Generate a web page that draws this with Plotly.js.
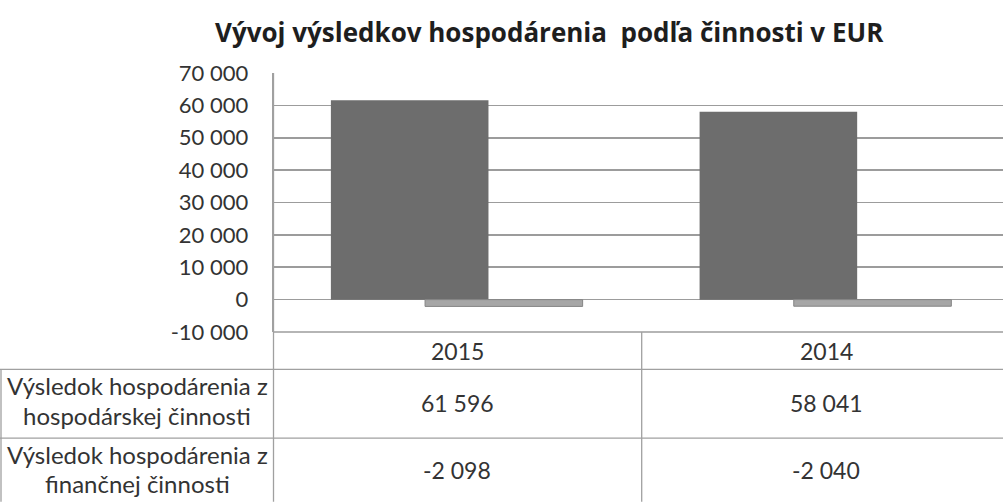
<!DOCTYPE html>
<html>
<head>
<meta charset="utf-8">
<script src="https://cdn.plot.ly/plotly-3.0.1.min.js"></script>
<style>
  html, body { margin: 0; padding: 0; background: #ffffff; }
  #chart { width: 1003px; height: 503px; }
</style>
</head>
<body>
<div id="chart"></div>
<script>
// ---- data ----
const categories = ['2015', '2014'];
const hospodarska = [61596, 58041];
const financna = [-2098, -2040];
const rowLabels = [
  ['Výsledok hospodárenia z', 'hospodárskej činnosti'],
  ['Výsledok hospodárenia z', 'finančnej činnosti']
];
const yTickVals = [-10000, 0, 10000, 20000, 30000, 40000, 50000, 60000, 70000];
const yTickLabels = ['-10 000', '0', '10 000', '20 000', '30 000', '40 000', '50 000', '60 000', '70 000'];
const chartTitle = 'Vývoj výsledkov hospodárenia  podľa činnosti v EUR';

// ---- helpers ----
function fmt(v) {
  const s = Math.abs(v).toString().replace(/\B(?=(\d{3})+(?!\d))/g, ' ');
  return (v < 0 ? '-' : '') + s;
}

const W = 1003, H = 503;
const mL = 273, mR = 0, mT = 72.5, mB = 170.5;
const plotW = W - mL - mR, plotH = H - mT - mB;
const px = x => (x - mL) / plotW;           // pixel x -> paper x
const py = y => (H - mB - y) / plotH;       // pixel y -> paper y

const FONT = 'Lato, "Open Sans", sans-serif';
const TXT = '#333333';
const LINE = '#a0a0a0';

const xIdx = categories.map((c, i) => i);

const traces = [
  {
    type: 'bar', x: xIdx, y: hospodarska, name: rowLabels[0].join(' '),
    width: 0.4274, offset: -0.343,
    marker: { color: '#6d6d6d', line: { width: 0 } },
    hoverinfo: 'y'
  },
  {
    type: 'bar', x: xIdx, y: financna, name: rowLabels[1].join(' '),
    width: 0.4274, offset: -0.0876,
    marker: { color: '#a6a6a6', line: { color: '#858585', width: 1 } },
    hoverinfo: 'y'
  }
];

const shapes = [];
const hline = (y, x0, x1, c, w) => shapes.push({ type: 'line', xref: 'paper', yref: 'paper', layer: 'above',
  x0: px(x0), x1: px(x1), y0: py(y), y1: py(y), line: { color: c || LINE, width: w || 1.3 } });
const vline = (x, y0, y1, xref) => shapes.push({ type: 'line', xref: xref || 'paper', yref: 'paper', layer: 'above',
  x0: x, x1: x, y0: py(y0), y1: py(y1), line: { color: LINE, width: 1.3 } });

hline(332.5, mL, W, '#9c9c9c', 1.6);
hline(370, 0, W);
hline(439, 0, W);
vline(px(1), 370, H);
vline(px(mL + 0.5), mT, H);
vline(0.5, 332.5, H, 'x');

const annotations = [];
annotations.push({ xref: 'paper', yref: 'paper', x: px(549), y: py(31), text: '<b>' + chartTitle + '</b>',
  showarrow: false, xanchor: 'center', yanchor: 'middle',
  font: { family: '"Open Sans", Lato, sans-serif', size: 26, color: '#1e1e1e' } });

categories.forEach((c, i) => {
  annotations.push({ xref: 'x', yref: 'paper', x: i, y: py(352), text: c, showarrow: false,
    xanchor: 'center', yanchor: 'middle', font: { family: FONT, size: 23, color: TXT } });
  annotations.push({ xref: 'x', yref: 'paper', x: i, y: py(404), text: fmt(hospodarska[i]), showarrow: false,
    xanchor: 'center', yanchor: 'middle', font: { family: FONT, size: 23, color: TXT } });
  annotations.push({ xref: 'x', yref: 'paper', x: i, y: py(471), text: fmt(financna[i]), showarrow: false,
    xanchor: 'center', yanchor: 'middle', font: { family: FONT, size: 23, color: TXT } });
});

const rowCenters = [401, 470];
rowLabels.forEach((lines, r) => {
  lines.forEach((t, k) => {
    annotations.push({ xref: 'paper', yref: 'paper', x: px(137), y: py(rowCenters[r] - 15 + 30 * k), text: t,
      showarrow: false, xanchor: 'center', yanchor: 'middle', font: { family: FONT, size: 24, color: TXT } });
  });
});

const layout = {
  width: W, height: H,
  margin: { l: mL, r: mR, t: mT, b: mB, pad: 0 },
  paper_bgcolor: '#ffffff', plot_bgcolor: '#ffffff',
  showlegend: false,
  barmode: 'overlay',
  font: { family: FONT, color: TXT },
  xaxis: {
    range: [-0.5, -0.5 + plotW / 368.7],
    showticklabels: false, showgrid: false, zeroline: false, showline: false, ticks: '',
    fixedrange: true
  },
  yaxis: {
    range: [-10000, 70000],
    tickmode: 'array', tickvals: yTickVals, ticktext: yTickLabels,
    tickfont: { family: FONT, size: 22, color: TXT },
    showgrid: true, gridcolor: '#9c9c9c', gridwidth: 1.6,
    zeroline: false, showline: true, linecolor: LINE, linewidth: 1.3,
    ticks: '', ticklabelstandoff: 19,
    fixedrange: true
  },
  shapes: shapes,
  annotations: annotations
};

Plotly.newPlot('chart', traces, layout, { displayModeBar: false, staticPlot: true });
</script>
</body>
</html>
